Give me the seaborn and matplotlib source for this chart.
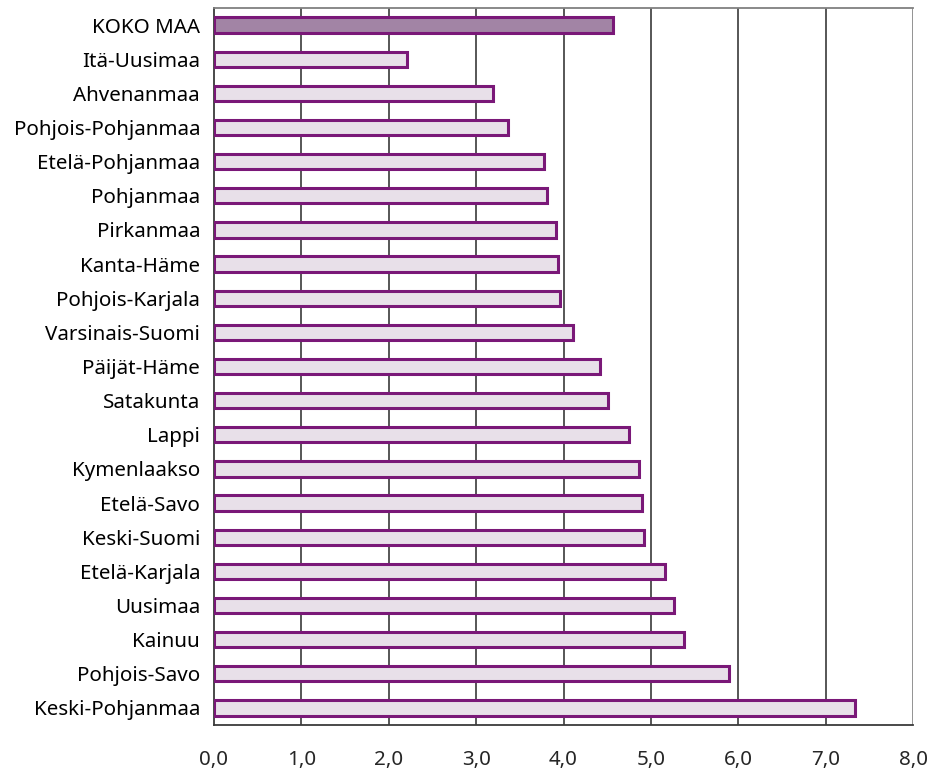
import matplotlib
matplotlib.use("Agg")
import matplotlib.pyplot as plt
import seaborn as sns
import pandas as pd
import numpy as np

regions = [
    "KOKO MAA", "Itä-Uusimaa", "Ahvenanmaa", "Pohjois-Pohjanmaa", "Etelä-Pohjanmaa",
    "Pohjanmaa", "Pirkanmaa", "Kanta-Häme", "Pohjois-Karjala", "Varsinais-Suomi",
    "Päijät-Häme", "Satakunta", "Lappi", "Kymenlaakso", "Etelä-Savo",
    "Keski-Suomi", "Etelä-Karjala", "Uusimaa", "Kainuu", "Pohjois-Savo",
    "Keski-Pohjanmaa",
]
values = [
    4.57, 2.21, 3.19, 3.37, 3.78,
    3.81, 3.91, 3.94, 3.96, 4.11,
    4.42, 4.51, 4.75, 4.86, 4.90,
    4.92, 5.16, 5.27, 5.38, 5.89,
    7.34,
]
x_ticks = [0, 1, 2, 3, 4, 5, 6, 7, 8]
x_tick_labels = ["0,0", "1,0", "2,0", "3,0", "4,0", "5,0", "6,0", "7,0", "8,0"]

df = pd.DataFrame({"alue": regions, "arvo": values})
df["ryhma"] = ["koko" if r == "KOKO MAA" else "alue" for r in regions]

sns.set_style("white")
plt.rcParams["font.family"] = ["Noto Sans", "DejaVu Sans"]

fig = plt.figure(figsize=(9.31, 7.70), dpi=100)
ax = fig.add_axes([214 / 931, 1 - 725 / 770, (913 - 214) / 931, (725 - 8) / 770])

palette = {"koko": "#A67FAA", "alue": "#E9DEEB"}
sns.barplot(data=df, x="arvo", y="alue", hue="ryhma", palette=palette,
            order=regions, orient="h", width=0.45, dodge=False,
            edgecolor="#7A1878", linewidth=2.2, legend=False, ax=ax, zorder=3)

ax.set_xlim(0, 8)
ax.set_ylim(len(regions) - 0.5, -0.5)
ax.set_xticks(x_ticks)
ax.set_xticklabels(x_tick_labels)
ax.set_xlabel("")
ax.set_ylabel("")

for xv in x_ticks[1:]:
    ax.axvline(xv, color="#3a3a3a" if xv < 8 else "#808080", linewidth=1.2, zorder=1)

ax.set_yticks(np.arange(len(regions)))
ax.set_yticks(np.arange(len(regions) + 1) - 0.5, minor=True)
ax.tick_params(axis="y", which="major", length=0, pad=10, labelsize=14.8, colors="black")
ax.tick_params(axis="y", which="minor", length=5, width=1.2, color="#3a3a3a", direction="out")
ax.tick_params(axis="x", which="major", length=6, width=1.2, color="#3a3a3a",
               direction="out", labelsize=14.8, pad=12)

for s in ["left", "bottom"]:
    ax.spines[s].set_color("#3a3a3a")
    ax.spines[s].set_linewidth(1.3)
ax.spines["top"].set_color("#808080")
ax.spines["top"].set_linewidth(1.3)
ax.spines["right"].set_visible(False)

fig.savefig("out.png", dpi=100)
